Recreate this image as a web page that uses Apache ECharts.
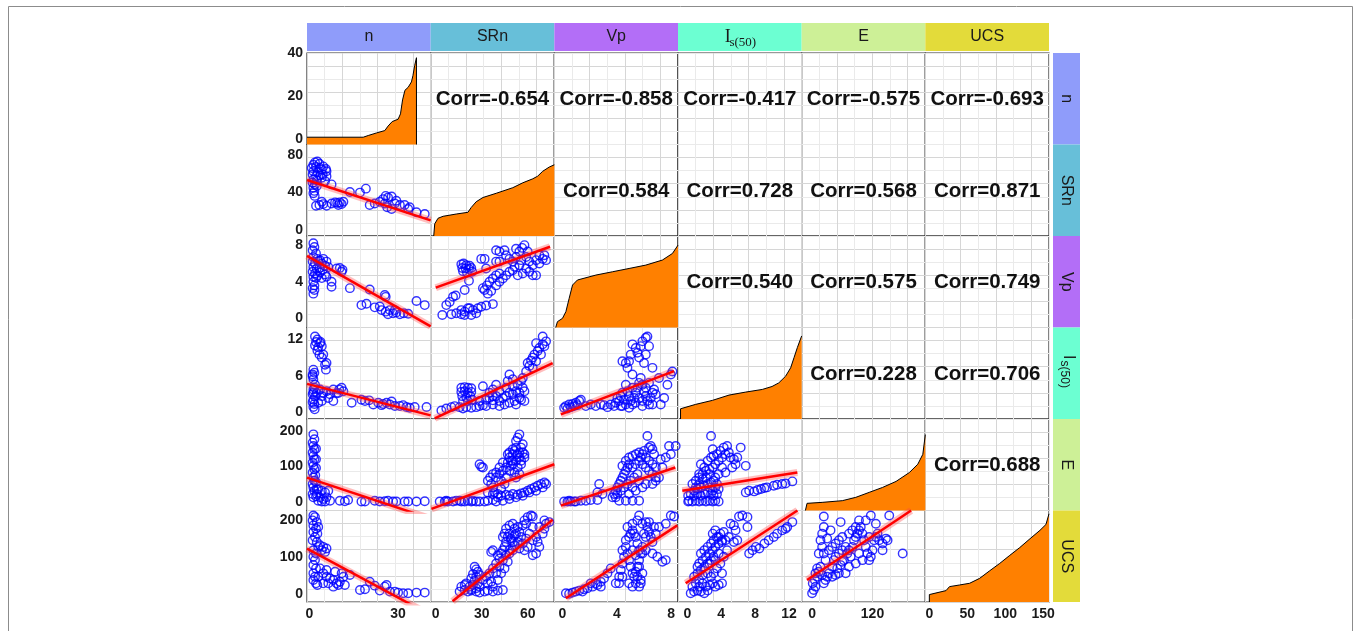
<!DOCTYPE html>
<html><head><meta charset="utf-8">
<script src="https://cdn.jsdelivr.net/npm/echarts@6/dist/echarts.min.js"></script>
<style>html,body{margin:0;padding:0;background:#fff}#c{width:1356px;height:631px}</style>
</head><body><div id="c"></div>
<script>
// ---------- tick labels / ranges ----------
const varNames = ['n','SRn','Vp','Is(50)','E','UCS'];
const xTickLabels = [[0,30],[0,30,60],[0,4,8],[0,4,8,12],[0,120],[0,50,100,150]];
const yTickLabels = [[0,20,40],[0,40,80],[0,4,8],[0,6,12],[0,100,200],[0,100,200]];
const xRanges = [[-0.8,41],[-3.3,77.4],[-0.6,8.5],[-1.1,13.5],[-20.7,225],[-5.3,157.6]];
const yRanges = [[-2.6,40.1],[-6,91],[-1,9],[-1.2,14],[-25,234],[-22,227]];
const corrLabels = [
  ['Corr=-0.654','Corr=-0.858','Corr=-0.417','Corr=-0.575','Corr=-0.693'],
  ['Corr=0.584','Corr=0.728','Corr=0.568','Corr=0.871'],
  ['Corr=0.540','Corr=0.575','Corr=0.749'],
  ['Corr=0.228','Corr=0.706'],
  ['Corr=0.688']
];
const stripColors = ['#8f9cfa','#67bfd9','#b36ef7','#6cffd2','#cdf097','#e3db3a'];

// ---------- diagonal curves ----------
const diag_n = [[-0.8,0.8],[18.2,0.8],[19.9,1.6],[22.7,2.8],[25.5,3.9],[26.6,6.0],[28.0,8.1],[30.0,9.2],[30.8,11.7],[31.5,18.2],[32.3,22.7],[33.4,24.1],[34.5,26.6],[35.0,29.5],[35.6,34.3],[36.2,37.9],[36.2,-2.6]];
const diag_SRn = [[-1.3,-6],[-0.65,6.9],[1.5,12.8],[4.8,14.9],[13.4,17.3],[21.0,19.1],[23.2,24.3],[26.4,30.3],[30.8,34.8],[39.5,39.3],[50.3,45.2],[56.8,50.4],[63.3,54.6],[66.5,57.4],[69.8,62.6],[74.1,67.1],[77.4,69.5]];
const diag_Vp = [[-0.5,-1.0],[-0.37,-0.36],[0,0],[0.25,0.73],[0.49,2.18],[0.74,3.64],[1.1,4.19],[2.46,4.73],[3.68,5.09],[4.9,5.45],[6.13,5.82],[7.35,6.37],[8.09,7.09],[8.5,8.0]];
const diag_Is = [[-0.8,-1.2],[-0.8,0.5],[0.99,1.23],[2.95,1.89],[4.92,2.77],[6.89,3.27],[8.85,3.71],[10.0,4.2],[10.8,4.8],[11.6,5.9],[12.2,7.3],[12.6,9.0],[13.0,10.7],[13.5,12.6]];
const diag_E = [[-13.3,-25],[-10,-4.7],[20,-2.0],[60,2.8],[86.8,12.2],[113.4,26.3],[140,40.3],[166.8,57.3],[193.4,82.6],[210,106],[220,134],[225,190]];
const diag_UCS = [[0,-22],[0,-1.8],[22,9],[26.5,19.8],[39.7,24.3],[53,28.9],[66.2,42.3],[79.5,63],[92.7,83],[106,105],[119,126],[132.5,150],[145.7,173],[153.6,189],[157.6,218]];

// ---------- scatter points (x = column variable, y = row variable) ----------
const pts_SRn_n = [[1.9,72],[2.7,73],[1.35,69.6],[3.4,70.6],[2.25,67.2],[0.8,66.1],[3.6,66.1],[1.35,62.6],[2.8,61.6],[4.2,64.4],[1.1,59.2],[2.25,57.4],[3.6,58.1],[1.35,53.9],[2.5,53.2],[1.1,50.5],[1.9,48.7],[1.35,45.2],[1.7,41.8],[1.35,39.3],[1.8,36.5],[2.5,47],[4.7,67.8],[5.6,65.1],[5.8,62.6],[4.5,59.2],[5.8,57.4],[4.2,55.7],[5.3,52.2],[7.5,48.7],[2.25,26.1],[3.4,26.8],[4.7,27.8],[5.8,26.1],[7.5,28.5],[8.7,29.6],[9.4,28.9],[10.3,29.6],[10.9,27.8],[11.5,30.3],[9.8,26.8],[4.2,30.3],[13.7,40.7],[17.1,40],[19.1,44.2],[20.4,26.8],[22.1,28.5],[23.8,30.3],[24.9,33.1],[25.8,36.5],[26.6,34.8],[27.8,35.8],[25.5,28.5],[26.3,24.4],[27.8,22.6],[28.9,28.5],[29.4,31.3],[30.6,26.8],[32.2,26.8],[33.4,22.6],[36.2,19.1],[39,17.4],[33.9,24.4]];
const pts_Vp_n = [[1.35,8.2],[1.7,7.8],[1.1,7.45],[2.25,7.1],[1.35,6.7],[2.7,6.5],[1.1,6.2],[1.9,6.0],[3.0,6.25],[1.35,5.6],[2.5,5.45],[1.1,5.1],[1.9,4.9],[1.35,4.55],[2.25,4.4],[1.35,4.0],[1.7,3.6],[1.1,3.3],[1.7,3.1],[1.35,2.7],[3.6,6.35],[4.7,6.5],[4.2,6.0],[5.8,6.2],[5.3,5.75],[3.4,5.5],[4.5,5.3],[6.4,5.6],[3.6,5.0],[5.3,4.8],[5.8,4.55],[4.2,4.4],[2.7,4.65],[7.5,4.0],[7.5,3.45],[9.2,5.45],[10.3,5.5],[11.2,5.3],[10.9,5.1],[13.7,3.3],[17.6,1.45],[19.3,1.6],[20.4,3.15],[22.1,1.2],[23.8,1.3],[25.5,2.55],[25.8,2.35],[24.4,0.9],[25.8,0.73],[27.2,0.9],[28.3,0.55],[29.4,0.65],[30.6,0.45],[31.9,0.55],[33.4,0.5],[28.9,0.9],[26.6,0.45],[36.2,1.9],[39,1.45]];
const pts_Is_n = [[1.35,7.0],[1.7,6.5],[1.1,5.9],[1.35,5.4],[1.9,4.5],[1.35,3.7],[1.1,2.9],[1.35,2.0],[1.7,1.3],[1.35,0.8],[1.8,0.4],[1.1,6.2],[1.7,4.0],[1.35,3.2],[1.1,1.6],[1.9,2.5],[1.9,12.5],[2.7,12.0],[2.25,11.6],[3.6,11.4],[3.0,10.7],[4.2,10.9],[2.7,10.2],[3.4,9.5],[4.2,9.0],[4.7,9.5],[5.8,8.1],[5.3,7.8],[5.6,7.0],[1.9,11.0],[3.8,11.6],[2.5,3.1],[3.6,3.7],[4.2,2.6],[4.7,3.1],[5.8,3.4],[7.0,2.9],[8.1,1.8],[9.2,3.1],[10.1,3.7],[10.9,4.0],[11.5,3.4],[9.8,3.1],[4.2,1.8],[3.0,1.5],[6.4,2.3],[8.1,3.7],[14.3,1.5],[17.6,2.0],[18.8,1.8],[20.2,1.9],[21.6,1.2],[23.3,1.5],[24.4,1.1],[24.9,1.3],[26.1,1.5],[27.2,1.2],[27.8,1.7],[28.9,0.95],[30.6,0.95],[31.7,1.1],[32.8,0.8],[33.9,0.66],[35.6,0.8],[39.6,0.8]];
const pts_E_n = [[1.35,190.6],[1.7,176.5],[1.1,167],[1.35,157.7],[1.7,148.4],[1.1,139],[1.35,129.6],[1.7,120.2],[1.1,110.8],[1.35,101.4],[1.7,92],[1.1,82.6],[1.35,68.5],[1.7,59.2],[1.1,49.8],[1.35,40.4],[1.7,31],[1.1,21.6],[1.35,12.2],[2.25,150],[2.25,120],[2.25,95],[2.0,75],[2.25,55],[2.5,35],[2.25,15],[3.0,35.7],[4.2,31],[5.3,26.3],[2.5,21.6],[3.6,12.2],[4.7,7.5],[5.8,12.2],[7.0,2.8],[3.0,2.8],[4.2,0.5],[6.4,31],[5.3,0.5],[10.3,2.8],[12,1],[13.1,4.7],[17.6,0.5],[18.8,0.5],[22.1,2.8],[23.8,0.5],[25.5,1],[26.6,2.8],[28.3,0.5],[29.4,0.5],[32.2,0.5],[33.4,0.5],[36.2,0.5],[39,1]];
const pts_UCS_n = [[1.35,213.5],[1.9,209],[1.1,200],[2.5,195.5],[1.35,186.5],[2.25,177.5],[3.0,182],[1.35,168.5],[2.7,164],[1.9,155],[1.1,146],[2.5,141.4],[3.0,128],[1.35,119],[2.25,110],[1.35,101],[1.9,92],[1.35,78.4],[2.25,69.4],[1.35,55.9],[1.9,46.8],[1.35,37.8],[2.25,28.8],[2.7,24.3],[3.6,132.4],[4.7,128],[5.8,123.4],[5.3,114.4],[4.2,119],[3.6,69.4],[4.7,55.9],[5.8,46.8],[7.0,42.3],[8.1,37.8],[9.2,28.8],[10.3,33.3],[11.5,46.8],[10.9,55.9],[9.8,24.3],[4.7,28.8],[6.4,28.8],[8.1,19.8],[3.0,46.8],[8.7,60.4],[12,24.3],[5.8,64.9],[13.7,51.4],[17.1,10.8],[18.8,12.6],[20.4,33.3],[22.1,22.5],[25.5,19.8],[26.1,24.3],[23.8,9],[27.2,6.3],[28.9,6.3],[30,3.6],[31.7,1.8],[33.4,1.8],[36.2,3.6],[39,3.6]];
const pts_Vp_SRn = [[16.7,5.9],[18.2,6.0],[19.9,5.8],[22.1,5.75],[17.3,5.5],[19.5,5.45],[21.7,5.4],[23.2,5.5],[17.8,5.15],[20.4,5.0],[23.8,5.1],[4.3,0.36],[6.9,1.45],[9.1,1.8],[11.3,2.36],[13,2.5],[18.9,3.1],[21.7,4.1],[10.2,0.44],[13.4,0.55],[16.7,0.44],[18.9,0.73],[22.1,1.1],[24.3,0.9],[27.5,1.1],[29.7,1.27],[32.9,1.4],[37.3,1.56],[18.9,0.36],[23.2,0.36],[26.4,0.55],[16.7,0.9],[21,1.1],[29.7,6.5],[30.8,3.3],[31.9,3.1],[33.4,3.6],[35.1,4.0],[37.3,4.36],[39.4,4.7],[41.6,4.9],[34,2.7],[36.2,3.0],[39.4,3.6],[41.6,4.0],[43.8,4.36],[45.9,4.7],[48.1,5.1],[50.3,5.27],[50.3,6.2],[48.1,6.5],[45.9,6.9],[44.9,7.45],[41.6,7.3],[39.4,6.2],[41.6,6.2],[39.4,7.45],[32.9,5.45],[31.9,6.5],[52.4,7.6],[54.6,7.3],[56.4,7.7],[57.9,8.0],[52.4,6.7],[55.7,6.36],[59,6.7],[61.1,6.2],[63.3,5.8],[65.5,6.36],[67.6,6.0],[69.8,6.5],[72,6.36],[70.9,6.9],[67.6,6.9],[63.3,4.7],[61.1,5.1],[65.5,4.7],[59,5.45],[54.6,5.8],[51.4,5.64],[56.8,4.9],[53.5,4.7],[60,7.3]];
const pts_Is_SRn = [[3.7,0.22],[6.9,0.55],[10.2,0.77],[12.4,0.94],[15.6,0.77],[17.8,0.55],[19.9,0.77],[23.2,0.66],[26.4,0.77],[28.6,0.94],[30.8,1.1],[16.7,4.0],[18.9,4.1],[21,4.0],[23.2,3.9],[16.7,3.3],[18.9,3.4],[21,3.15],[23.2,3.3],[17.3,2.6],[19.9,2.4],[22.5,2.6],[17.8,1.8],[21,1.8],[23.8,2.0],[30.8,4.25],[35.1,2.3],[37.3,2.6],[28.6,1.8],[32.9,2.0],[37.3,1.9],[39.4,2.6],[41.6,1.8],[43.8,2.3],[45.9,2.6],[48.1,3.15],[50.3,2.9],[52.4,3.4],[54.6,3.15],[56.8,4.0],[57.9,3.4],[55.7,2.0],[51.4,1.8],[48.1,1.5],[44.9,1.2],[41.6,0.94],[37.3,1.2],[32.9,0.94],[50.3,4.25],[53.5,4.5],[55.7,5.1],[56.8,5.6],[48.1,6.2],[50.3,5.4],[45.9,4.0],[41.6,3.4],[39.4,4.5],[37.3,3.7],[35.1,3.15],[54.6,2.3],[52.4,1.2],[57.9,1.8],[47,5.1],[59,6.7],[60,8.1],[62.2,8.5],[63.3,9.0],[64.4,9.5],[66.5,10.1],[67.6,10.6],[69.8,11.2],[72,11.7],[69.8,12.5],[65.5,11.4],[68.7,9.5],[70.9,10.9],[63.3,7.3],[61.1,7.6],[65.5,8.4]];
const pts_E_SRn = [[2.6,0.5],[5.9,0.5],[8.0,0.5],[11.3,0.5],[13.4,2.8],[16.7,0.5],[18.9,0.5],[21,2.8],[23.2,0.5],[26.4,0.5],[28.6,0.5],[31.9,0.5],[6.9,2.8],[15.6,2.8],[24.3,2.8],[28.6,106],[30.8,96.7],[29.7,98.6],[34,2.8],[37.3,4.7],[40.5,12.2],[42.7,16.9],[45.9,19.7],[48.1,16.9],[50.3,21.6],[53.5,19.7],[55.7,23.5],[57.9,26.3],[60,31],[62.2,35.7],[64.4,40.4],[66.5,45],[68.7,49.8],[70.9,54.5],[72,49.8],[69.8,40.4],[65.5,31],[61.1,26.3],[56.8,16.9],[52.4,12.2],[48.1,7.5],[43.8,2.8],[39.4,0.5],[34,59.2],[36.2,49.8],[37.3,40.4],[39.4,68.5],[41.6,78],[42.7,59.2],[43.8,87.3],[45.9,96.7],[47,110.8],[48.1,124.9],[49.2,115.5],[50.3,134.3],[51.4,143.7],[52.4,153],[53.5,134.3],[54.6,124.9],[55.7,115.5],[56.8,139],[57.9,134.3],[54.6,190.6],[55.7,153],[52.4,171.8],[50.3,106],[48.1,87.3],[45.9,68.5],[44.9,49.8],[42.7,35.7],[40.5,21.6],[38.3,26.3],[41.6,96.7],[43.8,110.8],[48.1,139],[50.3,115.5],[52.4,115.5],[53.5,96.7],[54.6,78],[55.7,106],[57.9,124.9],[56.8,162.4],[53.5,181.2],[50.3,148.4],[47,134.3],[49.2,101.4],[51.4,82.6],[52.4,68.5],[39.4,82.6],[37.3,78],[35.5,68.5],[34,26.3],[37.3,21.6],[54.6,139]];
const pts_UCS_SRn = [[15.6,6.3],[18.9,10.8],[21,6.3],[23.2,9],[26.4,6.3],[28.6,3.6],[31.9,6.3],[34,9],[37.3,6.3],[40.5,9],[43.8,10.8],[25.4,73.9],[26.4,66.7],[27.5,60.4],[24.3,54],[26.4,46.8],[28.6,51.4],[23.2,42.3],[25.4,36],[27.5,28.8],[24.3,24.3],[22.1,19.8],[28.6,19.8],[26.4,15.3],[19.9,28.8],[23.2,12.6],[16.7,19.8],[18.9,24.3],[30.8,37.8],[32.9,46.8],[35.1,55.9],[37.3,69.4],[39.4,82.9],[40.5,105.4],[37.3,118.9],[36.2,114.4],[41.6,96.4],[42.7,109.9],[43.8,118.9],[44.9,127.9],[45.9,141.4],[47,155],[48.1,164],[49.2,150.5],[50.3,141.4],[43.8,91.9],[45.9,105.4],[48.1,118.9],[41.6,73.9],[39.4,55.9],[36.2,33.3],[34,28.8],[37.3,19.8],[40.5,37.8],[42.7,55.9],[44.9,69.4],[47,87.4],[48.1,109.9],[50.3,118.9],[51.4,132.4],[43.8,155],[44.9,164],[45.9,177.5],[48.1,186.5],[50.3,191],[51.4,177.5],[52.4,164],[53.5,182],[54.6,168.5],[56.8,186.5],[59,191],[60,209],[62.2,213.5],[63.3,210.8],[57.9,200],[55.7,155],[53.5,141.4],[56.8,137],[59,150.5],[61.1,164],[63.3,182],[51.4,159.5],[49.2,146],[54.6,123.4],[57.9,118.9],[60,127.9],[63.3,146],[65.5,155],[66.5,141.4],[67.6,128],[65.5,110],[63.3,105.4],[69.8,164],[70.9,177.5],[72,191],[74.1,195.5],[70.9,200],[67.6,182]];
const pts_Is_Vp = [[0.12,0.66],[0.25,0.94],[0.49,1.2],[0.74,1.3],[0.98,1.5],[1.23,1.8],[1.35,2.0],[0.37,0.55],[0.61,0.77],[0.86,0.94],[1.1,1.1],[1.72,0.94],[2.08,1.2],[2.45,0.94],[2.82,1.2],[3.06,1.1],[3.31,0.77],[3.55,1.2],[3.8,0.94],[3.92,1.5],[4.04,2.3],[4.17,1.8],[4.29,2.6],[4.41,3.15],[4.53,2.0],[4.66,1.2],[4.78,3.4],[4.9,2.6],[5.02,1.8],[5.15,1.2],[5.27,2.3],[5.39,3.15],[5.51,4.0],[5.64,4.8],[5.76,5.6],[5.88,4.5],[6.0,3.4],[6.13,2.6],[6.25,1.8],[6.37,1.2],[6.5,2.3],[6.62,3.15],[6.74,3.7],[6.86,2.9],[4.41,0.94],[4.9,0.66],[5.39,1.5],[5.88,1.8],[6.13,4.0],[6.37,4.8],[5.15,4.0],[4.66,4.5],[4.29,0.94],[6.62,1.2],[5.64,2.3],[5.88,0.94],[4.41,8.4],[4.66,8.1],[4.9,8.4],[5.02,9.5],[5.15,11.2],[5.39,10.6],[5.51,9.8],[5.64,9.0],[5.76,10.9],[5.88,11.7],[6.13,12.3],[6.25,12.5],[6.37,10.9],[6.13,9.5],[6.0,8.1],[6.62,7.3],[5.15,6.2],[4.78,7.3],[7.23,1.2],[7.48,2.3],[7.72,4.5],[7.97,6.2],[8.09,6.7],[7.1,5.6]];
const pts_E_Vp = [[0.12,0.5],[0.37,0.5],[0.61,0.5],[0.98,0.5],[1.35,2.8],[1.72,2.8],[2.08,4.7],[2.57,4.7],[0.49,2.8],[0.86,0.5],[2.7,49.8],[2.57,26.3],[2.94,21.6],[3.68,12.2],[3.8,21.6],[3.92,31],[4.04,40.4],[4.17,49.8],[4.29,59.2],[4.41,68.5],[4.53,78],[4.66,87.3],[4.78,96.7],[4.9,106],[4.41,101.4],[4.66,115.5],[4.9,124.9],[5.15,129.6],[5.39,134.3],[5.64,139],[5.88,134.3],[6.13,124.9],[6.37,115.5],[6.62,106],[6.86,96.7],[5.15,96.7],[5.39,106],[5.64,115.5],[5.88,106],[6.13,96.7],[6.37,87.3],[6.62,78],[6.86,68.5],[6.37,153],[6.5,157.7],[6.62,148.4],[6.74,134.3],[6.25,186],[6.0,143.7],[5.76,124.9],[5.51,78],[5.27,68.5],[5.02,59.2],[4.78,49.8],[4.53,40.4],[4.29,31],[4.04,21.6],[3.92,12.2],[4.17,2.8],[4.66,2.8],[5.15,2.8],[5.64,2.8],[4.9,21.6],[5.39,31],[5.88,40.4],[6.13,49.8],[5.15,40.4],[5.64,59.2],[6.62,49.8],[6.86,59.2],[7.1,68.5],[7.35,96.7],[7.23,120.2],[7.6,124.9],[7.84,157.7],[8.33,157.7],[7.97,134.3]];
const pts_UCS_Vp = [[0.25,1.8],[0.49,0.5],[0.74,3.6],[0.98,6.3],[1.23,9],[1.47,6.3],[1.84,15.3],[2.21,19.8],[2.57,24.3],[2.82,33.3],[3.06,42.3],[3.31,55.9],[3.55,69.4],[2.82,19.8],[2.45,28.8],[2.08,28.8],[1.59,12.6],[3.92,28.8],[4.17,46.8],[4.29,64.9],[4.41,82.9],[4.53,100.9],[4.41,118.9],[4.66,128],[4.78,110],[4.9,91.9],[5.02,73.9],[5.15,55.9],[5.27,46.8],[5.39,60.4],[5.51,73.9],[5.64,91.9],[5.76,110],[5.88,128],[4.66,146],[4.9,155],[5.02,164],[5.15,173],[5.27,164],[5.39,155],[5.51,137],[5.64,119],[4.78,182],[5.15,191],[5.51,200],[5.64,213.5],[5.88,191],[6.13,195.5],[6.25,182],[6.37,168.5],[6.5,155],[6.62,141.4],[6.13,155],[6.0,164],[6.37,195.5],[6.74,182],[6.86,164],[6.62,110],[6.98,101],[7.6,92],[7.35,87.4],[5.88,110],[6.13,119],[5.15,119],[5.39,105.4],[5.64,73.9],[5.51,46.8],[5.76,37.8],[5.88,55.9],[4.9,28.8],[5.15,19.8],[5.39,28.8],[5.64,19.8],[5.76,28.8],[4.41,46.8],[4.17,28.8],[7.97,213.5],[8.21,210.8],[7.6,191],[7.1,182]];
const pts_E_Is = [[0.1,0.5],[0.2,2.8],[0.6,0.5],[1.0,2.8],[1.4,0.5],[1.8,2.8],[2.2,0.5],[2.6,2.8],[3.0,0.5],[3.3,2.8],[3.7,0.5],[0.1,16.9],[0.4,21.6],[0.8,31],[1.2,35.7],[1.6,40.4],[2.0,45],[2.4,49.8],[2.8,54.5],[3.1,59.2],[3.5,49.8],[0.6,49.8],[1.0,59.2],[1.4,68.5],[1.8,78],[2.2,87.3],[2.6,92],[3.0,96.7],[3.3,106],[3.7,115.5],[4.1,124.9],[4.5,134.3],[4.9,139],[1.6,106],[2.0,96.7],[2.4,115.5],[2.8,124.9],[3.1,129.6],[3.5,134.3],[3.9,143.7],[4.3,153],[4.7,157.7],[5.1,124.9],[5.5,120.2],[5.9,124.9],[6.3,153],[6.9,101.4],[2.8,186],[3.0,148.4],[4.1,96.7],[4.5,82.6],[3.7,78],[3.3,68.5],[1.4,49.8],[1.8,63.8],[2.2,68.5],[2.6,78],[5.3,96.7],[5.7,106],[0.8,16.9],[1.2,21.6],[1.6,16.9],[2.0,21.6],[2.4,26.3],[2.8,21.6],[3.1,16.9],[3.5,21.6],[3.7,35.7],[3.3,40.4],[3.0,31],[2.6,40.4],[1.4,78],[1.0,40.4],[6.9,26.3],[7.3,31],[7.9,29],[8.3,32.9],[8.7,35.7],[9.1,38.5],[9.4,40.4],[10.2,45],[10.6,47.9],[11.2,49.8],[11.6,51.6],[12.4,57.3]];
const pts_UCS_Is = [[0.4,1.8],[0.8,6.3],[1.2,9],[1.6,6.3],[2.0,1.8],[2.4,9],[0.6,19.8],[1.0,28.8],[1.4,37.8],[1.8,28.8],[2.2,19.8],[2.6,24.3],[3.0,28.8],[3.3,19.8],[3.7,24.3],[4.1,28.8],[0.8,46.8],[1.2,55.9],[1.6,64.9],[2.0,73.9],[2.4,82.9],[2.8,91.9],[3.1,101],[1.4,82.9],[1.8,91.9],[2.2,101],[2.6,110],[3.0,118.9],[3.3,128],[3.7,137],[4.1,146],[1.6,110],[2.0,118.9],[2.4,128],[2.8,137],[3.1,146],[3.5,155],[3.9,164],[4.3,168.5],[3.0,164],[3.3,173],[3.7,155],[4.1,141.4],[4.5,146],[4.9,155],[5.1,191],[5.5,186.5],[5.7,173],[6.1,210.8],[6.5,213.5],[7.1,209],[7.1,182],[5.9,146],[5.5,141.4],[4.7,118.9],[4.3,101],[3.9,82.9],[3.5,69.4],[3.1,55.9],[2.8,46.8],[2.4,55.9],[3.7,110],[4.1,55.9],[1.8,51.4],[1.4,19.8],[7.3,110],[2.6,82.9],[3.3,91.9],[1.2,73.9],[8.1,128],[8.5,123.4],[9.1,137],[9.6,146],[10.2,155],[10.6,164],[11.2,173],[11.6,177.5],[11.8,182],[12.4,195.5],[7.7,118.9]];
const pts_UCS_E = [[0,1.8],[3.3,10.8],[6.7,19.8],[1.3,28.8],[5.3,37.8],[10,46.8],[6.7,55.9],[13.3,60.4],[10,69.4],[16.7,73.9],[20,51.4],[23.3,28.8],[26.7,37.8],[30,46.8],[33.3,55.9],[40,46.8],[46.7,51.4],[53.3,55.9],[50,69.4],[56.7,78.4],[60,87.4],[40,73.9],[43.3,91.9],[46.7,101],[53.3,110],[60,118.9],[66.7,128],[73.3,118.9],[76.7,101],[63.3,91.9],[70,110],[80,128],[83.3,146],[86.7,155],[90,164],[93.3,173],[96.7,182],[100,164],[103.3,146],[106.7,128],[110,110],[113.3,91.9],[116.7,101],[120,118.9],[123.3,146],[126.7,155],[130,164],[133.3,146],[140,137],[146.7,150.5],[150,146],[153.3,213.5],[116.7,213.5],[126.7,191],[56.7,195.5],[20,164],[16.7,146],[20,128],[23.3,110],[26.7,91.9],[13.3,110],[33.3,118.9],[40,128],[46.7,137],[53.3,146],[60,155],[73.3,164],[80,173],[86.7,182],[93.3,200],[106.7,200],[113.3,155],[93.3,110],[100,91.9],[86.7,82.9],[73.3,73.9],[66.7,55.9],[180,110],[140,118.9],[30,150.5],[23.3,182],[36.7,173],[23.3,210.8]];

// ---------- fitted line end points ----------
const fit_SRn_n = [[-0.8,53.3],[41,10.5]];
const fit_Vp_n = [[-0.8,6.82],[41,-0.87]];
const fit_Is_n = [[-0.8,4.63],[41,-0.6]];
const fit_E_n = [[-0.8,68.2],[41,-48]];
const fit_UCS_n = [[-0.8,123],[41,-57.6]];
const fit_Vp_SRn = [[0,3.35],[74.6,7.82]];
const fit_Is_SRn = [[-0.65,-1.1],[76.3,8.1]];
const fit_E_SRn = [[-2.8,-20.6],[77.4,106]];
const fit_UCS_SRn = [[11,-20],[76.3,202]];
const fit_Is_Vp = [[-0.12,-0.43],[8.21,6.75]];
const fit_E_Vp = [[-0.12,-11.3],[8.3,96.6]];
const fit_UCS_Vp = [[0.25,-11.6],[8.45,186.5]];
const fit_E_Is = [[-0.59,31],[12.99,82.5]];
const fit_UCS_Is = [[-0.19,29],[13.0,227]];
const fit_UCS_E = [[-10,37.8],[196.7,227]];

const diagCurves = [diag_n, diag_SRn, diag_Vp, diag_Is, diag_E, diag_UCS];
const scatterPanels = [
  [1,0,pts_SRn_n,fit_SRn_n],[2,0,pts_Vp_n,fit_Vp_n],[3,0,pts_Is_n,fit_Is_n],[4,0,pts_E_n,fit_E_n],[5,0,pts_UCS_n,fit_UCS_n],
  [2,1,pts_Vp_SRn,fit_Vp_SRn],[3,1,pts_Is_SRn,fit_Is_SRn],[4,1,pts_E_SRn,fit_E_SRn],[5,1,pts_UCS_SRn,fit_UCS_SRn],
  [3,2,pts_Is_Vp,fit_Is_Vp],[4,2,pts_E_Vp,fit_E_Vp],[5,2,pts_UCS_Vp,fit_UCS_Vp],
  [4,3,pts_E_Is,fit_E_Is],[5,3,pts_UCS_Is,fit_UCS_Is],
  [5,4,pts_UCS_E,fit_UCS_E]
];

// ---------- layout ----------
const L = 307, T = 53, R = 1049, B = 602;
const CW = (R - L) / 6, RH = (B - T) / 6;
const FONT = '"Liberation Sans", Arial, sans-serif';

const grids = [], xAxes = [], yAxes = [], series = [], graphics = [];
for (let r = 0; r < 6; r++) {
  for (let c = 0; c < 6; c++) {
    const idx = r * 6 + c;
    grids.push({left: L + c * CW, top: T + r * RH, width: CW, height: RH, show: true,
      borderColor: '#333333', borderWidth: 1.2, backgroundColor: '#ffffff', containLabel: false});
    const xr = xRanges[c], yr = yRanges[r];
    xAxes.push({type: 'value', gridIndex: idx, min: xr[0], max: xr[1], interval: (xr[1] - xr[0]) / 7,
      axisLine: {show: false}, axisTick: {show: false},
      splitLine: {show: true, lineStyle: {color: ['#d6d6d6', '#eaeaea'], width: 1}},
      axisLabel: r === 5 ? {show: true, customValues: xTickLabels[c], fontSize: 14, fontWeight: 'bold',
        color: '#1a1a1a', fontFamily: FONT, margin: 5} : {show: false}});
    yAxes.push({type: 'value', gridIndex: idx, min: yr[0], max: yr[1], interval: (yr[1] - yr[0]) / 7,
      axisLine: {show: false}, axisTick: {show: false},
      splitLine: {show: true, lineStyle: {color: ['#d6d6d6', '#eaeaea'], width: 1}},
      axisLabel: c === 0 ? {show: true, customValues: yTickLabels[r], fontSize: 14, fontWeight: 'bold',
        color: '#1a1a1a', fontFamily: FONT, margin: 4} : {show: false}});
  }
}

// diagonal
diagCurves.forEach((d, i) => {
  const idx = i * 6 + i;
  series.push({type: 'line', xAxisIndex: idx, yAxisIndex: idx, data: d, symbol: 'none', silent: true,
    lineStyle: {color: '#000', width: 1}, areaStyle: {color: '#ff8000', opacity: 1, origin: 'start'}, z: 2});
});

// scatter panels
scatterPanels.forEach(([r, c, pts, fit]) => {
  const idx = r * 6 + c;
  series.push({type: 'scatter', xAxisIndex: idx, yAxisIndex: idx, data: pts, symbol: 'circle', symbolSize: 8.5,
    silent: true, itemStyle: {color: 'rgba(0,0,0,0)', borderColor: '#0000ff', borderWidth: 1.4}, z: 2});
  series.push({type: 'line', xAxisIndex: idx, yAxisIndex: idx, data: fit, symbol: 'none', silent: true,
    lineStyle: {color: 'rgba(255,70,70,0.35)', width: 7}, z: 3});
  series.push({type: 'line', xAxisIndex: idx, yAxisIndex: idx, data: fit, symbol: 'none', silent: true,
    lineStyle: {color: '#ff0000', width: 2.5}, z: 4});
});

// correlation texts
for (let r = 0; r < 5; r++) {
  for (let c = r + 1; c < 6; c++) {
    graphics.push({type: 'text', x: L + c * CW + CW / 2, y: T + r * RH + RH / 2 + 1, z: 100, silent: true,
      style: {text: corrLabels[r][c - r - 1], align: 'center', verticalAlign: 'middle',
        fontSize: 20.5, fontWeight: 'bold', fontFamily: FONT, fill: '#111'}});
  }
}

// strips
for (let i = 0; i < 6; i++) {
  graphics.push({type: 'rect', shape: {x: L + i * CW, y: 23, width: CW, height: 28}, style: {fill: stripColors[i]}, silent: true});
  graphics.push({type: 'rect', shape: {x: 1053, y: T + i * RH, width: 27, height: RH}, style: {fill: stripColors[i]}, silent: true});
  const cx = L + i * CW + CW / 2, cy = T + i * RH + RH / 2;
  if (i === 3) {
    graphics.push({type: 'text', x: cx - 12, y: 37, z: 10, silent: true,
      style: {text: 'I', align: 'center', verticalAlign: 'middle', fontSize: 18, fontFamily: '"Liberation Serif", serif', fill: '#1a1a1a'}});
    graphics.push({type: 'text', x: cx + 3, y: 43, z: 10, silent: true,
      style: {text: 's(50)', align: 'center', verticalAlign: 'middle', fontSize: 13, fontFamily: '"Liberation Serif", serif', fill: '#1a1a1a'}});
    graphics.push({type: 'text', x: 1068, y: cy - 16, rotation: -Math.PI / 2, z: 10, silent: true,
      style: {text: 'I', align: 'center', verticalAlign: 'middle', fontSize: 16, fontFamily: FONT, fill: '#1a1a1a'}});
    graphics.push({type: 'text', x: 1064, y: cy + 1, rotation: -Math.PI / 2, z: 10, silent: true,
      style: {text: 's(50)', align: 'center', verticalAlign: 'middle', fontSize: 12, fontFamily: FONT, fill: '#1a1a1a'}});
  } else {
    graphics.push({type: 'text', x: cx, y: 37, z: 10, silent: true,
      style: {text: varNames[i], align: 'center', verticalAlign: 'middle', fontSize: 16, fontFamily: FONT, fill: '#1a1a1a'}});
    graphics.push({type: 'text', x: 1066.5, y: cy, rotation: -Math.PI / 2, z: 10, silent: true,
      style: {text: varNames[i], align: 'center', verticalAlign: 'middle', fontSize: 16, fontFamily: FONT, fill: '#1a1a1a'}});
  }
}
// outer frame
graphics.push({type: 'rect', shape: {x: 8.5, y: 6.5, width: 1344, height: 700}, style: {fill: 'none', stroke: '#8c8c8c', lineWidth: 1}, silent: true, z: 0});

const chart = echarts.init(document.getElementById('c'), null, {renderer: 'canvas'});
chart.setOption({animation: false, backgroundColor: '#ffffff', grid: grids, xAxis: xAxes, yAxis: yAxes, series: series, graphic: graphics});
</script></body></html>
